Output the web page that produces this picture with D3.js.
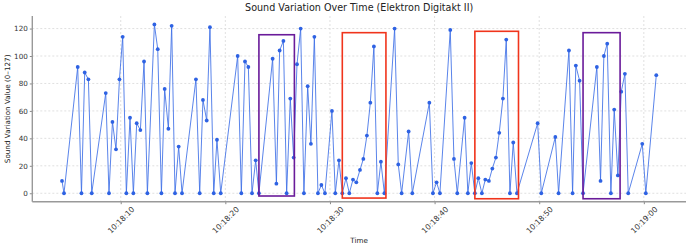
<!DOCTYPE html>
<html>
<head>
<meta charset="utf-8">
<script src="https://cdn.jsdelivr.net/npm/d3@7"></script>
<style>
  html, body { margin: 0; padding: 0; background: #fff; }
  svg { display: block; font-family: "DejaVu Sans", sans-serif; }
</style>
</head>
<body>
<svg id="chart" width="690" height="249"></svg>
<script>
// ---- Data ----
const times = [
  "10:18:04.390","10:18:04.580","10:18:05.890","10:18:06.250","10:18:06.560","10:18:06.910","10:18:07.230",
  "10:18:08.570","10:18:08.880","10:18:09.210","10:18:09.550","10:18:09.880","10:18:10.190","10:18:10.540",
  "10:18:10.890","10:18:11.210","10:18:11.530","10:18:11.880","10:18:12.230","10:18:12.550","10:18:13.220",
  "10:18:13.540","10:18:13.890","10:18:14.200","10:18:14.560","10:18:14.870","10:18:15.190","10:18:15.540",
  "10:18:15.860","10:18:17.190","10:18:17.550","10:18:17.860","10:18:18.220","10:18:18.530","10:18:18.890",
  "10:18:19.200","10:18:19.560","10:18:21.180","10:18:21.530","10:18:21.880","10:18:22.200","10:18:22.550",
  "10:18:22.900","10:18:23.210","10:18:24.520","10:18:24.880","10:18:25.190","10:18:25.550","10:18:25.860",
  "10:18:26.210","10:18:26.530","10:18:26.850","10:18:27.200","10:18:27.510","10:18:27.870","10:18:28.180",
  "10:18:28.510","10:18:28.850","10:18:29.180","10:18:29.520","10:18:30.190","10:18:30.510","10:18:30.860",
  "10:18:31.180","10:18:31.530","10:18:31.850","10:18:32.200","10:18:32.520","10:18:32.870","10:18:33.190",
  "10:18:33.530","10:18:33.860","10:18:34.200","10:18:34.530","10:18:34.870","10:18:35.200","10:18:36.180",
  "10:18:36.530","10:18:36.850","10:18:37.520","10:18:37.870","10:18:39.500","10:18:39.840","10:18:40.190",
  "10:18:40.510","10:18:41.500","10:18:41.850","10:18:42.170","10:18:42.870","10:18:43.180","10:18:43.510",
  "10:18:43.850","10:18:44.180","10:18:44.520","10:18:44.850","10:18:45.190","10:18:45.520","10:18:45.860",
  "10:18:46.180","10:18:46.530","10:18:46.850","10:18:47.200","10:18:47.520","10:18:47.870","10:18:49.850",
  "10:18:50.200","10:18:51.540","10:18:51.850","10:18:52.840","10:18:53.190","10:18:53.500","10:18:53.860",
  "10:18:54.190","10:18:55.510","10:18:55.860","10:18:56.180","10:18:56.500","10:18:56.850","10:18:57.170",
  "10:18:57.520","10:18:57.840","10:18:58.190","10:18:58.510","10:18:59.850","10:19:00.190","10:19:01.190"
];
const values = [
  9, 0, 92, 0, 88, 83, 0,
  73, 0, 52, 32, 83, 114, 0,
  55, 0, 51, 46, 96, 0, 123,
  105, 0, 76, 47, 122, 0, 34,
  0, 83, 0, 68, 53, 121, 0,
  39, 0, 100, 0, 96, 92, 0,
  24, 0, 98, 7, 104, 111, 0,
  69, 26, 94, 120, 0, 78, 36,
  114, 0, 6, 0, 60, 0, 24,
  0, 11, 0, 10, 8, 17, 25,
  42, 66, 107, 0, 23, 0, 120,
  21, 0, 45, 0, 66, 0, 8,
  0, 119, 25, 0, 55, 0, 22,
  0, 11, 0, 10, 9, 18, 26,
  44, 69, 112, 0, 37, 0, 51,
  0, 41, 0, 104, 0, 93, 82,
  0, 92, 9, 100, 109, 0, 61,
  13, 74, 87, 0, 36, 0, 86
];
// highlight boxes: start time, end time, low value, high value, colour
const boxStarts = ["10:18:23.210", "10:18:31.180", "10:18:43.850", "10:18:54.190"];
const boxEnds   = ["10:18:26.600", "10:18:35.350", "10:18:48.020", "10:18:57.730"];
const boxLows   = [-2, -3.5, -4, -4];
const boxHighs  = [115.5, 117, 118, 117];
const boxColors = ["#6a1b9a", "#f0341c", "#f0341c", "#6a1b9a"];
const xTickLabels = ["10:18:10", "10:18:20", "10:18:30", "10:18:40", "10:18:50", "10:19:00"];
const yTicks = [0, 20, 40, 60, 80, 100, 120];

// ---- Chart ----
const parse = d3.timeParse("%H:%M:%S.%L");
const parseTick = d3.timeParse("%H:%M:%S");
const points = times.map((t, i) => ({ t: parse(t), v: values[i] }));

const pLeft = 32.3, pRight = 686, pTop = 16, pBottom = 201.7;
const svg = d3.select("#chart");

const tMin = d3.min(points, d => d.t), tMax = d3.max(points, d => d.t);
const span = tMax - tMin;
const x = d3.scaleTime()
  .domain([new Date(+tMin - span * 0.05), new Date(+tMax + span * 0.05)])
  .range([pLeft, pRight]);
const vMax = d3.max(values), vMin = d3.min(values);
const vPad = (vMax - vMin) * 0.05;
const y = d3.scaleLinear().domain([vMin - vPad, vMax + vPad]).range([pBottom, pTop]);

const tickDates = xTickLabels.map(parseTick);

// grid
const grid = svg.append("g");
grid.selectAll("line.h").data(yTicks).join("line")
  .attr("x1", pLeft).attr("x2", pRight)
  .attr("y1", d => y(d)).attr("y2", d => y(d))
  .attr("stroke", "#d8d8d8").attr("stroke-width", 0.8).attr("stroke-dasharray", "2,2");
grid.selectAll("line.v").data(tickDates).join("line")
  .attr("y1", pTop).attr("y2", pBottom)
  .attr("x1", d => x(d)).attr("x2", d => x(d))
  .attr("stroke", "#d8d8d8").attr("stroke-width", 0.8).attr("stroke-dasharray", "2,2");

// line
const line = d3.line().x(d => x(d.t)).y(d => y(d.v));
svg.append("path").datum(points)
  .attr("d", line).attr("fill", "none")
  .attr("stroke", "#3d6fe6").attr("stroke-width", 1).attr("stroke-opacity", 0.85);

// markers
svg.append("g").selectAll("circle").data(points).join("circle")
  .attr("cx", d => x(d.t)).attr("cy", d => y(d.v)).attr("r", 1.9)
  .attr("fill", "#2e62e3");

// boxes
const boxes = boxStarts.map((s, i) => ({ s: parse(s), e: parse(boxEnds[i]), lo: boxLows[i], hi: boxHighs[i], c: boxColors[i] }));
svg.append("g").selectAll("rect").data(boxes).join("rect")
  .attr("x", d => x(d.s)).attr("y", d => y(d.hi))
  .attr("width", d => x(d.e) - x(d.s)).attr("height", d => y(d.lo) - y(d.hi))
  .attr("fill", "none").attr("stroke", d => d.c).attr("stroke-width", 1.6);

// axes
const yAxis = d3.axisLeft(y).tickValues(yTicks).tickSize(2.5).tickPadding(2);
const gy = svg.append("g").attr("transform", `translate(${pLeft},0)`).call(yAxis);
gy.select(".domain").remove();
gy.selectAll("line").attr("stroke", "#888");
gy.selectAll("text").attr("font-size", 7.2).attr("fill", "#333").attr("font-family", "DejaVu Sans, sans-serif");

const xAxis = d3.axisBottom(x).tickValues(tickDates).tickSize(2.5).tickFormat(d3.timeFormat("%H:%M:%S"));
const gx = svg.append("g").attr("transform", `translate(0,${pBottom})`).call(xAxis);
gx.select(".domain").remove();
gx.selectAll("line").attr("stroke", "#888");
gx.selectAll("text")
  .attr("font-size", 7.6).attr("fill", "#333").attr("font-family", "DejaVu Sans, sans-serif")
  .attr("y", 0).attr("dy", null)
  .attr("text-anchor", "middle").attr("dominant-baseline", "central")
  .attr("transform", "translate(0,18.5) rotate(-45)");

// spines
svg.append("line").attr("x1", pLeft).attr("x2", pLeft).attr("y1", pTop).attr("y2", pBottom)
  .attr("stroke", "#999").attr("stroke-width", 1.4);
svg.append("line").attr("x1", pLeft).attr("x2", pRight).attr("y1", pBottom).attr("y2", pBottom)
  .attr("stroke", "#999").attr("stroke-width", 1.4);

// labels
svg.append("text").attr("x", (pLeft + pRight) / 2).attr("y", 11).attr("text-anchor", "middle")
  .attr("font-size", 9.6).attr("fill", "#222").text("Sound Variation Over Time (Elektron Digitakt II)");
svg.append("text").attr("x", (pLeft + pRight) / 2).attr("y", 243).attr("text-anchor", "middle")
  .attr("font-size", 7.2).attr("fill", "#222").text("Time");
svg.append("text").attr("transform", `translate(9.5,${(pTop + pBottom) / 2}) rotate(-90)`)
  .attr("text-anchor", "middle").attr("font-size", 7.2).attr("fill", "#222")
  .text("Sound Variation Value (0–127)");
</script>
</body>
</html>
